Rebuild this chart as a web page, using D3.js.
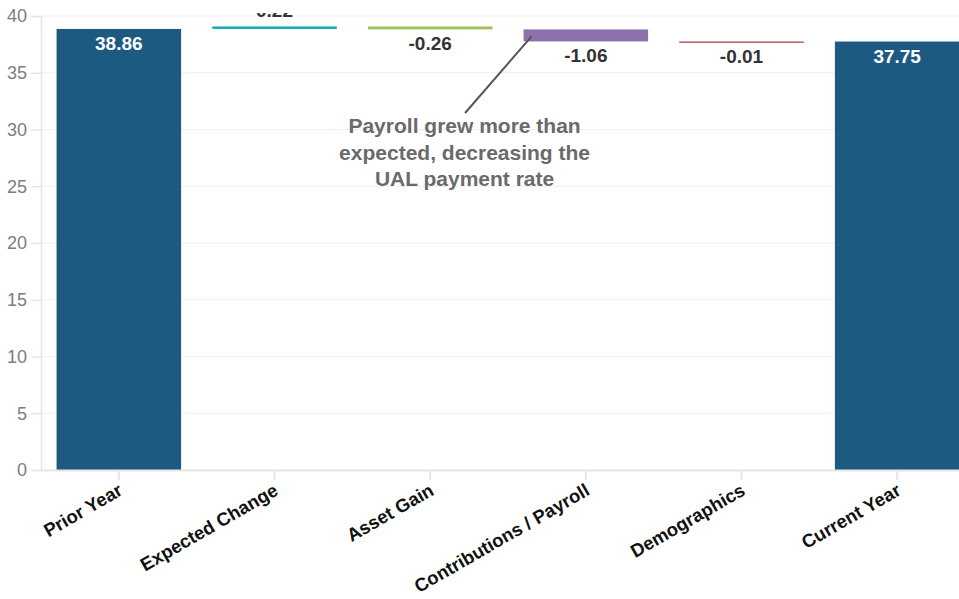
<!DOCTYPE html>
<html>
<head>
<meta charset="utf-8">
<script src="https://cdn.jsdelivr.net/npm/d3@7"></script>
<style>
  html, body { margin: 0; padding: 0; background: #fff; }
  svg { display: block; font-family: "Liberation Sans", Arial, Helvetica, sans-serif; }
</style>
</head>
<body>
<svg id="chart" width="959" height="599"></svg>
<script>
// Waterfall: UAL payment rate, prior year to current year
const categories = ["Prior Year", "Expected Change", "Asset Gain", "Contributions / Payroll", "Demographics", "Current Year"];
const values = [38.86, 0.22, -0.26, -1.06, -0.01, 37.75];
const isTotal = [true, false, false, false, false, true];
const yTicks = [0, 5, 10, 15, 20, 25, 30, 35, 40];
const annotationLines = ["Payroll grew more than", "expected, decreasing the", "UAL payment rate"];
const annotationTarget = "Contributions / Payroll";

const palette = ["#1c5a82", "#16a9b9", "#a5c15f", "#8c72aa", "#b65a5e", "#1c5a82"];

const svg = d3.select("#chart");
const W = 959, H = 599;
const plot = { left: 41, top: 16, bottom: 470, right: 975 };

const x = d3.scaleBand()
  .domain(categories)
  .range([plot.left, plot.right])
  .paddingInner(0.2)
  .paddingOuter(0.1);

const y = d3.scaleLinear().domain([0, 40]).range([plot.bottom, plot.top]);

// running totals -> start / end of each bar
let running = 0;
const bars = categories.map((c, i) => {
  let start, end;
  if (isTotal[i]) { start = 0; end = values[i]; running = values[i]; }
  else { start = running; end = running + values[i]; running = end; }
  return { cat: c, value: values[i], start, end, total: isTotal[i], color: palette[i] };
});

svg.append("defs").append("clipPath").attr("id", "plotClip")
  .append("rect").attr("x", 0).attr("y", 13).attr("width", W).attr("height", H);

// gridlines
svg.append("g").selectAll("line").data(yTicks).join("line")
  .attr("x1", plot.left).attr("x2", W)
  .attr("y1", d => y(d)).attr("y2", d => y(d))
  .attr("stroke", "#efefef").attr("stroke-width", 1);

// y axis
const yAxis = svg.append("g")
  .attr("transform", `translate(${plot.left},0)`)
  .call(d3.axisLeft(y).tickValues(yTicks).tickSize(10).tickPadding(4));
yAxis.select(".domain").attr("stroke", "#e6e6e6").attr("stroke-width", 1.5);
yAxis.selectAll(".tick line").attr("stroke", "#e6e6e6").attr("stroke-width", 1.5);
yAxis.selectAll(".tick text")
  .attr("fill", "#787e87").attr("font-size", 18).attr("font-family", "Liberation Sans, Arial, sans-serif");

// bars
svg.append("g").selectAll("rect").data(bars).join("rect")
  .attr("x", d => x(d.cat))
  .attr("width", x.bandwidth())
  .attr("y", d => Math.min(y(d.start), y(d.end)))
  .attr("height", d => Math.max(Math.abs(y(d.start) - y(d.end)), 1.5))
  .attr("fill", d => d.color);

// x axis
const xAxis = svg.append("g")
  .attr("transform", `translate(0,${plot.bottom})`)
  .call(d3.axisBottom(x).tickSize(10).tickSizeOuter(0));
xAxis.select(".domain").attr("stroke", "#e6e6e6").attr("stroke-width", 2);
xAxis.selectAll(".tick line").attr("stroke", "#e6e6e6").attr("stroke-width", 2);
xAxis.selectAll(".tick text")
  .attr("transform", "translate(5,24) rotate(-30)")
  .attr("x", 0).attr("y", 0).attr("dy", 0)
  .attr("text-anchor", "end")
  .attr("fill", "#111").attr("font-size", 18.5).attr("font-weight", "bold")
  .attr("font-family", "Liberation Sans, Arial, sans-serif");

// value labels (plain hyphen for negatives)
const fmt = v => (v < 0 ? "-" : "") + Math.abs(v).toFixed(2);
svg.append("g").attr("clip-path", "url(#plotClip)")
  .selectAll("text").data(bars).join("text")
  .attr("x", d => x(d.cat) + x.bandwidth() / 2)
  .attr("y", d => {
    if (d.total) return y(d.end) + 21;
    if (d.value >= 0) return y(d.end) - 9;
    return y(d.end) + 21;
  })
  .attr("text-anchor", "middle")
  .attr("font-size", 19).attr("font-weight", "bold")
  .attr("fill", d => d.total ? "#fff" : "#333")
  .text(d => fmt(d.value));

// annotation
const tb = bars.find(b => b.cat === annotationTarget);
const ax0 = x(tb.cat) + 8, ay0 = (y(tb.start) + y(tb.end)) / 2 + 1;
const tx = x(tb.cat) - 59, ty = 133;
svg.append("line")
  .attr("x1", ax0).attr("y1", ay0)
  .attr("x2", tx + 0.5).attr("y2", ty - 20)
  .attr("stroke", "#555").attr("stroke-width", 2);
svg.append("text")
  .attr("text-anchor", "middle")
  .attr("font-size", 21).attr("font-weight", "bold").attr("fill", "#6a6a6a")
  .selectAll("tspan").data(annotationLines).join("tspan")
  .attr("x", tx).attr("y", (d, i) => ty + i * 26.5)
  .text(d => d);
</script>
</body>
</html>
